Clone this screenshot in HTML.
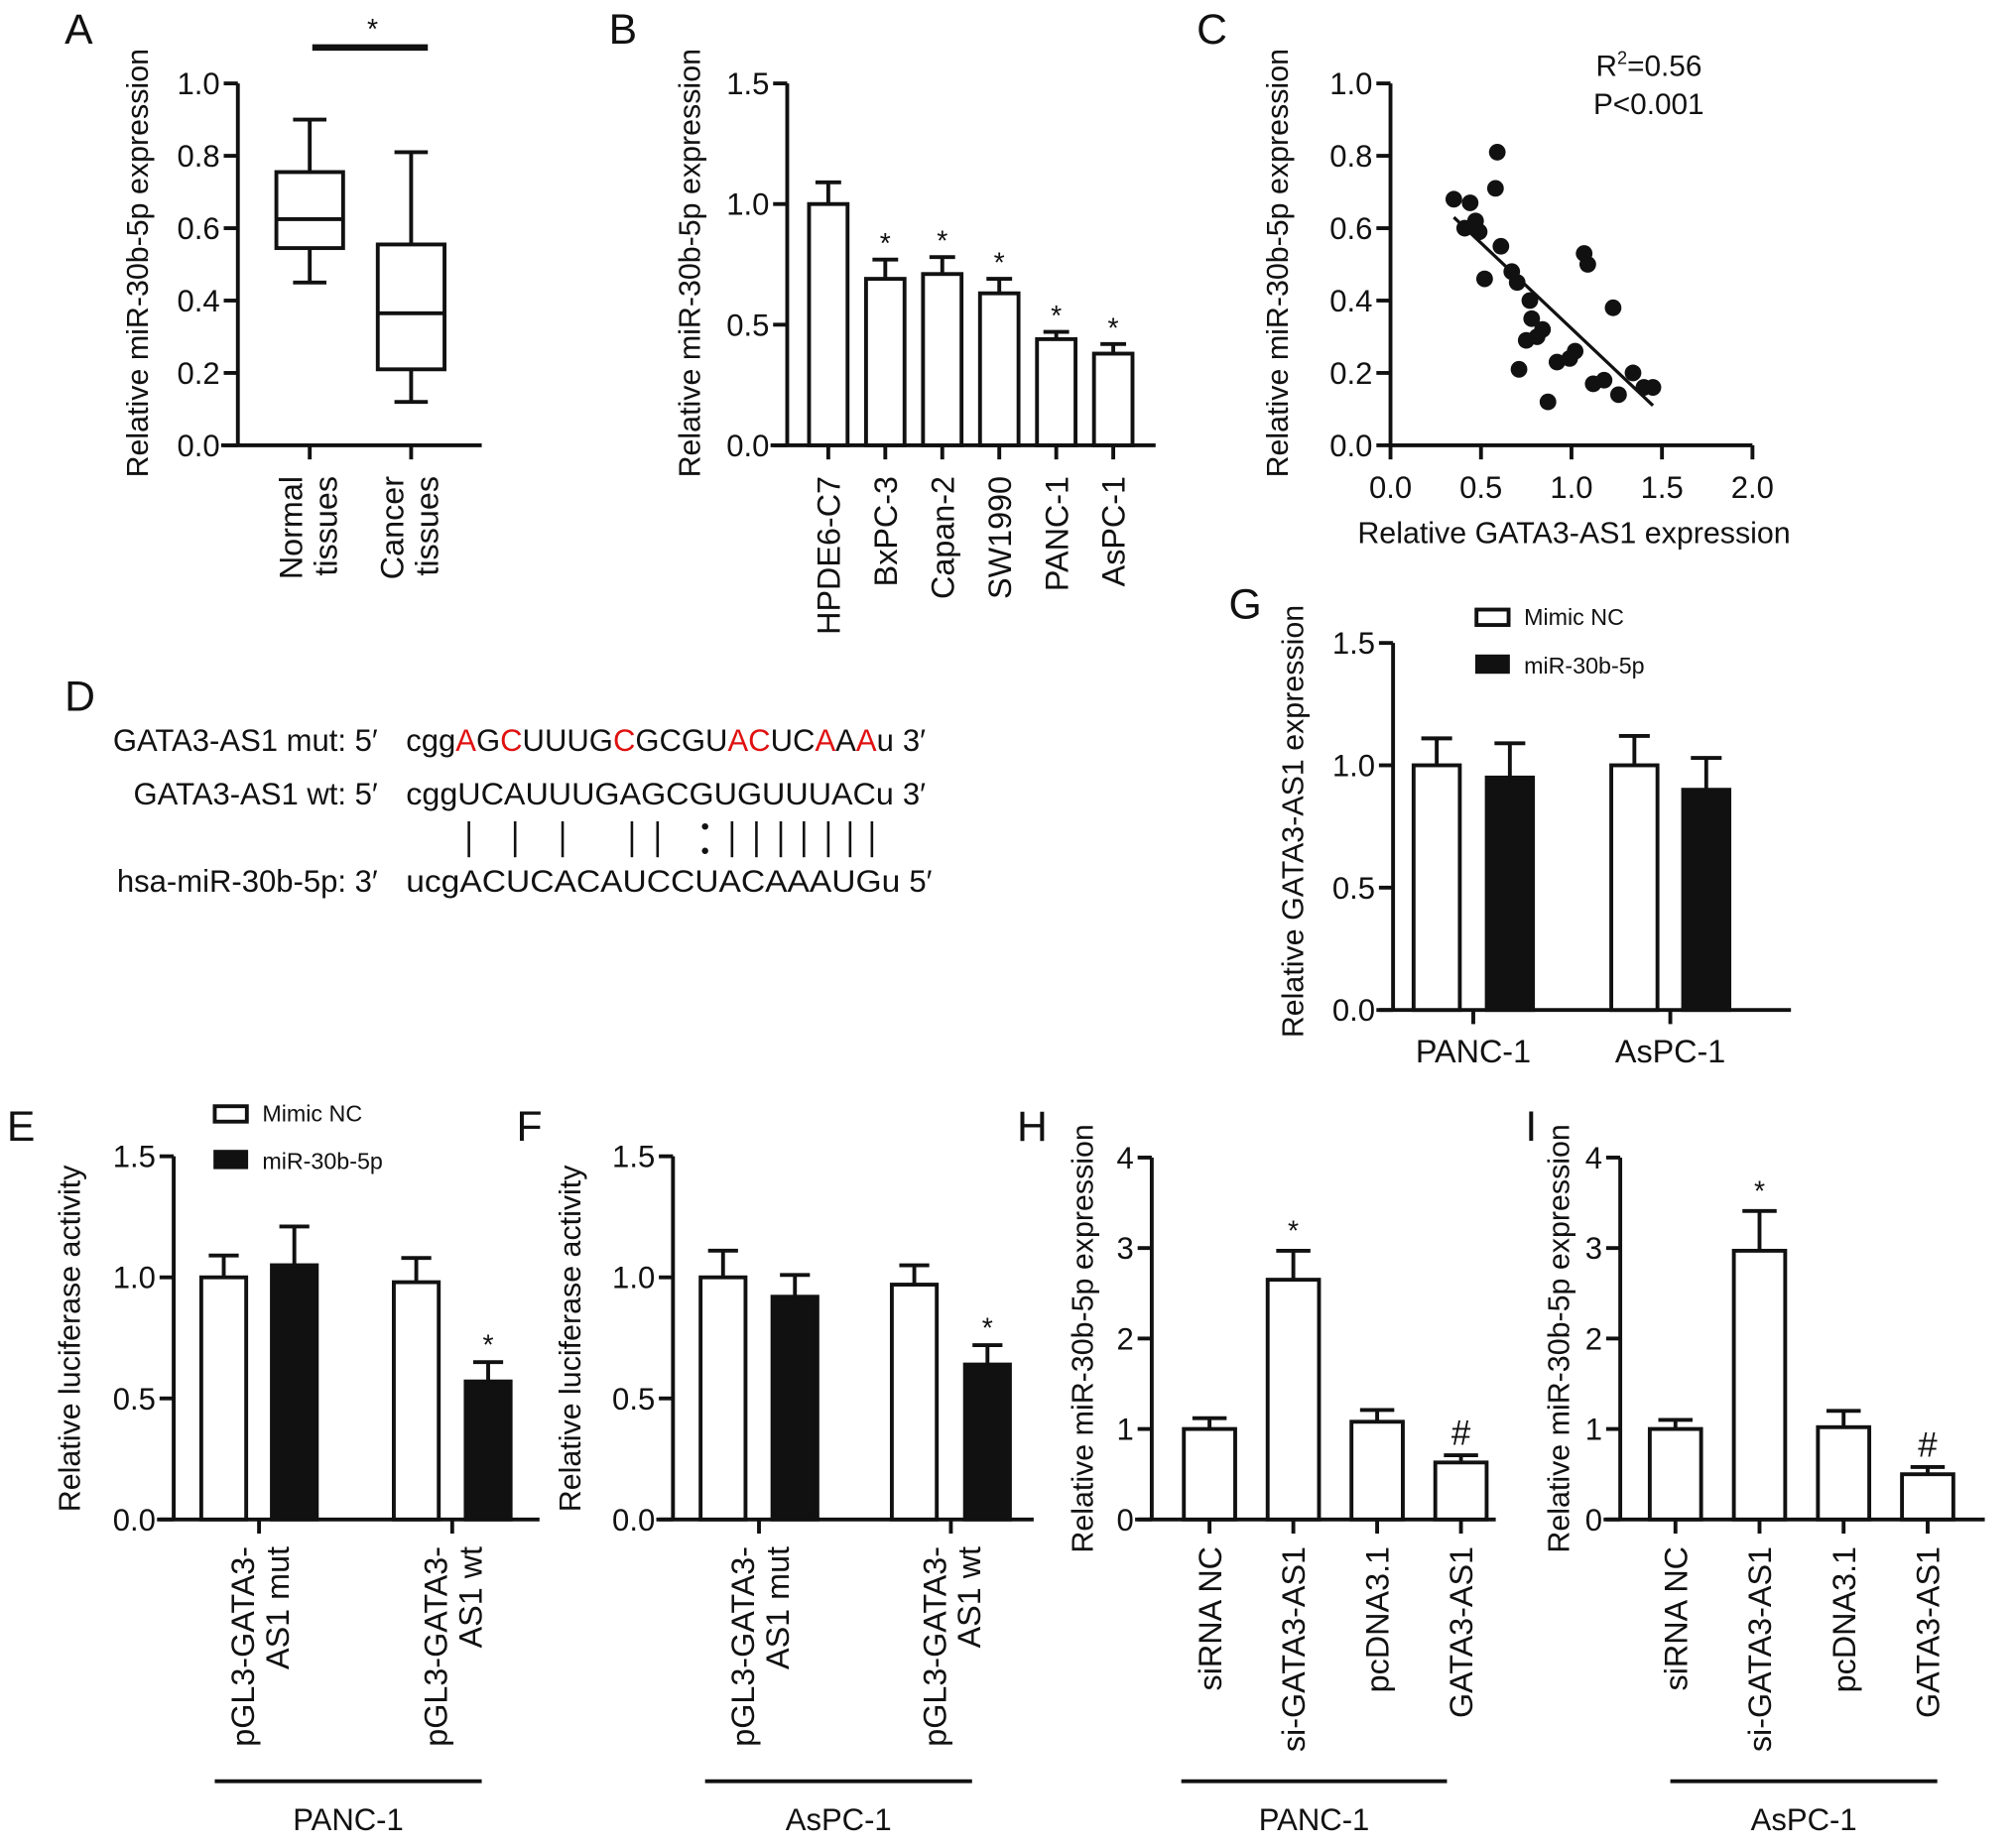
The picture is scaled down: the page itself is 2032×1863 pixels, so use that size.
<!DOCTYPE html>
<html><head><meta charset="utf-8">
<style>
html,body{margin:0;padding:0;background:#fff;}
svg{display:block;}
text{font-family:"Liberation Sans",Arial,sans-serif;fill:#111;}
</style></head>
<body>
<svg id="fig" width="2032" height="1863" viewBox="0 0 1570 1440" xmlns="http://www.w3.org/2000/svg">
<g font-size="24">
  <text x="50" y="554" font-size="33">D</text>
  <text x="294" y="585" text-anchor="end">GATA3-AS1 mut: 5′</text>
  <text x="316" y="585" textLength="380" lengthAdjust="spacingAndGlyphs">cgg<tspan fill="#e01010">A</tspan>G<tspan fill="#e01010">C</tspan>UUUG<tspan fill="#e01010">C</tspan>GCGU<tspan fill="#e01010">AC</tspan>UC<tspan fill="#e01010">A</tspan>A<tspan fill="#e01010">A</tspan>u</text>
  <text x="703" y="585">3′</text>
  <text x="294" y="627" text-anchor="end">GATA3-AS1 wt: 5′</text>
  <text x="316" y="627" textLength="380" lengthAdjust="spacingAndGlyphs">cggUCAUUUGAGCGUGUUUACu</text>
  <text x="703" y="627">3′</text>
  <text x="294" y="695" text-anchor="end">hsa-miR-30b-5p: 3′</text>
  <text x="316" y="695" textLength="385" lengthAdjust="spacingAndGlyphs">ucgACUCACAUCCUACAAAUGu</text>
  <text x="708" y="695">5′</text>
  <g id="pipes"></g>
</g>
</svg>
<script>
// ---- Panel A data (box plot) ----
const aCategories = [["Normal","tissues"],["Cancer","tissues"]];
const aMin = [0.45, 0.12];
const aQ1 = [0.545, 0.21];
const aMedian = [0.625, 0.365];
const aQ3 = [0.755, 0.555];
const aMax = [0.90, 0.81];
const aTicks = ["0.0","0.2","0.4","0.6","0.8","1.0"];
// ---- Panel B data ----
const bCategories = ["HPDE6-C7","BxPC-3","Capan-2","SW1990","PANC-1","AsPC-1"];
const bValues = [1.0, 0.69, 0.71, 0.63, 0.44, 0.38];
const bErrors = [0.09, 0.08, 0.07, 0.06, 0.03, 0.04];
const bMarks = ["","*","*","*","*","*"];
const bTicks = ["0.0","0.5","1.0","1.5"];
// ---- Panel C data (scatter) ----
const cX = [0.35,0.44,0.41,0.47,0.49,0.58,0.59,0.52,0.61,0.67,0.70,0.77,0.78,0.75,0.81,0.84,0.71,0.87,0.92,0.99,1.02,1.07,1.09,1.23,1.12,1.18,1.26,1.34,1.40,1.45];
const cY = [0.68,0.67,0.60,0.62,0.59,0.71,0.81,0.46,0.55,0.48,0.45,0.40,0.35,0.29,0.30,0.32,0.21,0.12,0.23,0.24,0.26,0.53,0.50,0.38,0.17,0.18,0.14,0.20,0.16,0.16];
const cFitX = [0.35, 1.45];
const cFitY = [0.63, 0.11];
const cYTicks = ["0.0","0.2","0.4","0.6","0.8","1.0"];
const cXTicks = ["0.0","0.5","1.0","1.5","2.0"];
// ---- Panel E data ----
const eGroups = [["pGL3-GATA3-","AS1 mut"],["pGL3-GATA3-","AS1 wt"]];
const eNC = [1.0, 0.98];
const eNCErr = [0.09, 0.10];
const eMiR = [1.05, 0.57];
const eMiRErr = [0.16, 0.08];
const eMiRMarks = ["","*"];
// ---- Panel F data ----
const fNC = [1.0, 0.97];
const fNCErr = [0.11, 0.08];
const fMiR = [0.92, 0.64];
const fMiRErr = [0.09, 0.08];
const fMiRMarks = ["","*"];
const lucTicks = ["0.0","0.5","1.0","1.5"];
// ---- Panel G data ----
const gGroups = ["PANC-1","AsPC-1"];
const gNC = [1.0, 1.0];
const gNCErr = [0.11, 0.12];
const gMiR = [0.95, 0.90];
const gMiRErr = [0.14, 0.13];
// ---- Panel H / I data ----
const hiCategories = ["siRNA NC","si-GATA3-AS1","pcDNA3.1","GATA3-AS1"];
const hValues = [1.0, 2.65, 1.08, 0.63];
const hErrors = [0.12, 0.32, 0.13, 0.08];
const hMarks = ["","*","","#"];
const iValues = [1.0, 2.97, 1.02, 0.50];
const iErrors = [0.10, 0.44, 0.18, 0.08];
const iMarks = ["","*","","#"];
const hiTicks = ["0","1","2","3","4"];

const NS = "http://www.w3.org/2000/svg";
const svg = document.getElementById("fig");
const SW = 3;
const TICK_FS = 24, TITLE_FS = 23.5, CAT_FS = 25, GROUP_FS = 24;
function el(tag, attrs, parent) {
  const e = document.createElementNS(NS, tag);
  for (const k in attrs) e.setAttribute(k, attrs[k]);
  (parent || svg).appendChild(e);
  return e;
}
function line(x1,y1,x2,y2,p,w){ return el("line",{x1,y1,x2,y2,stroke:"#111","stroke-width":w||SW},p); }
function txt(s,x,y,size,anchor,p,extra){
  const t = el("text",Object.assign({x,y,"font-size":size,"text-anchor":anchor||"start"},extra||{}),p);
  t.textContent = s; return t;
}
function rtxt(s,x,y,size,anchor,p){
  const t = el("text",{x:0,y:0,"font-size":size,"text-anchor":anchor,transform:`translate(${x},${y}) rotate(-90)`},p);
  t.textContent = s; return t;
}
function yAxis(g, ax, y0, yTop, x0end, ticks, maxV){
  line(ax, y0, ax, yTop, g);
  ticks.forEach((tl,i)=>{
    const v = parseFloat(tl);
    const y = y0 - (v/maxV)*(y0-yTop);
    const tk = line(ax-11, y, ax, y, g);
    
    
    const t = txt(tl, ax-14, y+8.5, TICK_FS, "end", g);
    
    
  });
}
function bar(g, cx, w, y0, yv, yerr, filled){
  const r = el("rect",{x:cx-w/2,y:yv,width:w,height:y0-yv,fill:filled?"#111":"#fff",stroke:"#111","stroke-width":SW},g);
  
  
  const e1 = line(cx, yv, cx, yerr, g);
  
  
  line(cx-w/3, yerr, cx+w/3, yerr, g);
}
function group(name){ const g = el("g",{});   return g; }

// ===== Panel A =====
(function(){
  const g = group("panel-a-boxplot");
  txt("A", 50, 34, 33, "start", g);
  const ax=185, y0=347, yTop=65;
  const Y = v => y0 - v*(y0-yTop);
  line(172, y0, 375, y0, g);
  yAxis(g, ax, y0, yTop, 0, aTicks, 1.0);
  const cxs=[241,320], w=52;
  aCategories.forEach((c,i)=>{
    const cx=cxs[i];
    const wl = line(cx, Y(aMin[i]), cx, Y(aMax[i]), g);
    
    
    line(cx-13, Y(aMin[i]), cx+13, Y(aMin[i]), g);
    line(cx-13, Y(aMax[i]), cx+13, Y(aMax[i]), g);
    const b = el("rect",{x:cx-w/2,y:Y(aQ3[i]),width:w,height:Y(aQ1[i])-Y(aQ3[i]),fill:"#fff",stroke:"#111","stroke-width":SW},g);
    
    
    const m = line(cx-w/2, Y(aMedian[i]), cx+w/2, Y(aMedian[i]), g);
    
    
    line(cx, y0, cx, y0+11, g);
    rtxt(c[0], cx-6, 371, CAT_FS, "end", g);
    rtxt(c[1], cx+21, 371, CAT_FS, "end", g);
  });
  line(243, 37, 333, 37, g, 5);
  txt("*", 290, 30, 22, "middle", g);
  rtxt("Relative miR-30b-5p expression", 115, 205, TITLE_FS, "middle", g);
})();

// ===== Panel B =====
(function(){
  const g = group("panel-b-bar-chart");
  txt("B", 474, 34, 33, "start", g);
  const ax=613, y0=347, yTop=65, maxV=1.5;
  const Y = v => y0 - (v/maxV)*(y0-yTop);
  line(600, y0, 900, y0, g);
  yAxis(g, ax, y0, yTop, 0, bTicks, maxV);
  const cx0=645, step=44.4, w=30;
  bCategories.forEach((c,i)=>{
    const cx = cx0 + i*step;
    bar(g, cx, w, y0, Y(bValues[i]), Y(bValues[i]+bErrors[i]), false);
    line(cx, y0, cx, y0+11, g);
    if (bMarks[i]) txt(bMarks[i], cx, Y(bValues[i]+bErrors[i])-5, 22, "middle", g);
    rtxt(c, cx+9, 371, CAT_FS, "end", g);
  });
  rtxt("Relative miR-30b-5p expression", 545, 205, TITLE_FS, "middle", g);
})();

// ===== Panel C =====
(function(){
  const g = group("panel-c-scatter");
  txt("C", 932, 34, 33, "start", g);
  const ax=1083, y0=347, yTop=65, x1=1365;
  const X = v => ax + (v/2.0)*(x1-ax);
  const Y = v => y0 - v*(y0-yTop);
  line(ax, y0, x1, y0, g);
  yAxis(g, ax, y0, yTop, 0, cYTicks, 1.0);
  cXTicks.forEach(tl=>{
    const x = X(parseFloat(tl));
    line(x, y0, x, y0+11, g);
    const t = txt(tl, x, 388, TICK_FS, "middle", g);
    
    
  });
  cX.forEach((v,i)=>{
    const c = el("circle",{cx:X(v),cy:Y(cY[i]),r:6.5,fill:"#111"},g);
    
    
  });
  const fit = line(X(cFitX[0]),Y(cFitY[0]),X(cFitX[1]),Y(cFitY[1]),g,2.5);
  
  
  const r = el("text",{x:1243,y:59,"font-size":23},g);
  r.innerHTML = 'R<tspan dy="-9" font-size="14">2</tspan><tspan dy="9">=0.56</tspan>';
  
  
  txt("P<0.001", 1241, 89, 23, "start", g);
  txt("Relative GATA3-AS1 expression", 1226, 423, TITLE_FS, "middle", g);
  rtxt("Relative miR-30b-5p expression", 1003, 205, TITLE_FS, "middle", g);
})();

// pipes in D
(function(){
  const p = document.getElementById("pipes");
  const xs = [365,401,438,492,512,570,589,608,626,645,662,679];
  xs.forEach(x=>line(x,640,x,668,p,2));
  el("circle",{cx:549,cy:644,r:2.5,fill:"#111"},p);
  el("circle",{cx:549,cy:663,r:2.5,fill:"#111"},p);
})();

function legend(g, x, y1, y2){
  const b1 = el("rect",{x:x,y:y1-12,width:25,height:12,fill:"#fff",stroke:"#111","stroke-width":SW},g);
  
  
  txt("Mimic NC", x+37, y1, 18, "start", g);
  const b2 = el("rect",{x:x-1,y:y2-15,width:27,height:15,fill:"#111"},g);
  
  
  txt("miR-30b-5p", x+37, y2, 18, "start", g);
}

// ===== Panels E / F =====
function lucPanel(name, letter, lx, ax, xEnd, centers, ncV, ncE, miV, miE, marks, groupLabel, gl0, gl1, titleX, showLegend){
  const g = group(name);
  txt(letter, lx, 889, 33, "start", g);
  const y0=1184, yTop=901, maxV=1.5;
  const Y = v => y0 - (v/maxV)*(y0-yTop);
  line(ax-13, y0, xEnd, y0, g);
  yAxis(g, ax, y0, yTop, 0, lucTicks, maxV);
  const w=35;
  eGroups.forEach((gr,i)=>{
    const cA=centers[i*2], cB=centers[i*2+1];
    bar(g, cA, w, y0, Y(ncV[i]), Y(ncV[i]+ncE[i]), false);
    bar(g, cB, w, y0, Y(miV[i]), Y(miV[i]+miE[i]), true);
    if (marks[i]) txt(marks[i], cB, Y(miV[i]+miE[i])-6, 22, "middle", g);
    const tx=(cA+cB)/2;
    line(tx, y0, tx, y0+11, g);
    rtxt(gr[0], tx-4, 1205, CAT_FS, "end", g);
    rtxt(gr[1], tx+23, 1205, CAT_FS, "end", g);
  });
  line(gl0, 1388, gl1, 1388, g, 3);
  txt(groupLabel, (gl0+gl1)/2, 1426, GROUP_FS, "middle", g);
  rtxt("Relative luciferase activity", titleX, 1043, TITLE_FS, "middle", g);
  if (showLegend) legend(g, 167, 874, 911);
}
lucPanel("panel-e-bar-chart","E",5,135,420,[174,229,324,380],eNC,eNCErr,eMiR,eMiRErr,eMiRMarks,"PANC-1",167,375,62,true);
lucPanel("panel-f-bar-chart","F",402,524,805,[563,619,712,769],fNC,fNCErr,fMiR,fMiRErr,fMiRMarks,"AsPC-1",549,757,452,false);

// ===== Panel G =====
(function(){
  const g = group("panel-g-bar-chart");
  txt("G", 957, 482, 33, "start", g);
  const ax=1085, y0=787, yTop=501, maxV=1.5;
  const Y = v => y0 - (v/maxV)*(y0-yTop);
  line(1072, y0, 1395, y0, g);
  yAxis(g, ax, y0, yTop, 0, lucTicks, maxV);
  const centers=[1119,1176,1273,1329], w=36;
  gGroups.forEach((gr,i)=>{
    const cA=centers[i*2], cB=centers[i*2+1];
    bar(g, cA, w, y0, Y(gNC[i]), Y(gNC[i]+gNCErr[i]), false);
    bar(g, cB, w, y0, Y(gMiR[i]), Y(gMiR[i]+gMiRErr[i]), true);
    const tx=(cA+cB)/2;
    line(tx, y0, tx, y0+11, g);
    txt(gr, tx, 828, CAT_FS, "middle", g);
  });
  legend(g, 1150, 487, 525);
  rtxt("Relative GATA3-AS1 expression", 1015, 640, TITLE_FS, "middle", g);
})();

// ===== Panels H / I =====
function miPanel(name, letter, lx, ax, xEnd, cx0, step, vals, errs, marks, groupLabel, gl0, gl1, titleX){
  const g = group(name);
  txt(letter, lx, 889, 33, "start", g);
  const y0=1184, yTop=902, maxV=4;
  const Y = v => y0 - (v/maxV)*(y0-yTop);
  line(ax-13, y0, xEnd, y0, g);
  yAxis(g, ax, y0, yTop, 0, hiTicks, maxV);
  const w=40;
  hiCategories.forEach((c,i)=>{
    const cx = cx0 + i*step;
    bar(g, cx, w, y0, Y(vals[i]), Y(vals[i]+errs[i]), false);
    line(cx, y0, cx, y0+11, g);
    if (marks[i]==="*") txt("*", cx, Y(vals[i]+errs[i])-8, 22, "middle", g);
    if (marks[i]==="#") txt("#", cx, Y(vals[i]+errs[i])-8, 27, "middle", g);
    rtxt(c, cx+9, 1205, CAT_FS, "end", g);
  });
  line(gl0, 1388, gl1, 1388, g, 3);
  txt(groupLabel, (gl0+gl1)/2, 1426, GROUP_FS, "middle", g);
  rtxt("Relative miR-30b-5p expression", titleX, 1043, TITLE_FS, "middle", g);
}
miPanel("panel-h-bar-chart","H",792,897,1165,942,65.3,hValues,hErrors,hMarks,"PANC-1",920,1127,851);
miPanel("panel-i-bar-chart","I",1188,1262,1546,1305,65.5,iValues,iErrors,iMarks,"AsPC-1",1301,1509,1222);
</script>
</body></html>
